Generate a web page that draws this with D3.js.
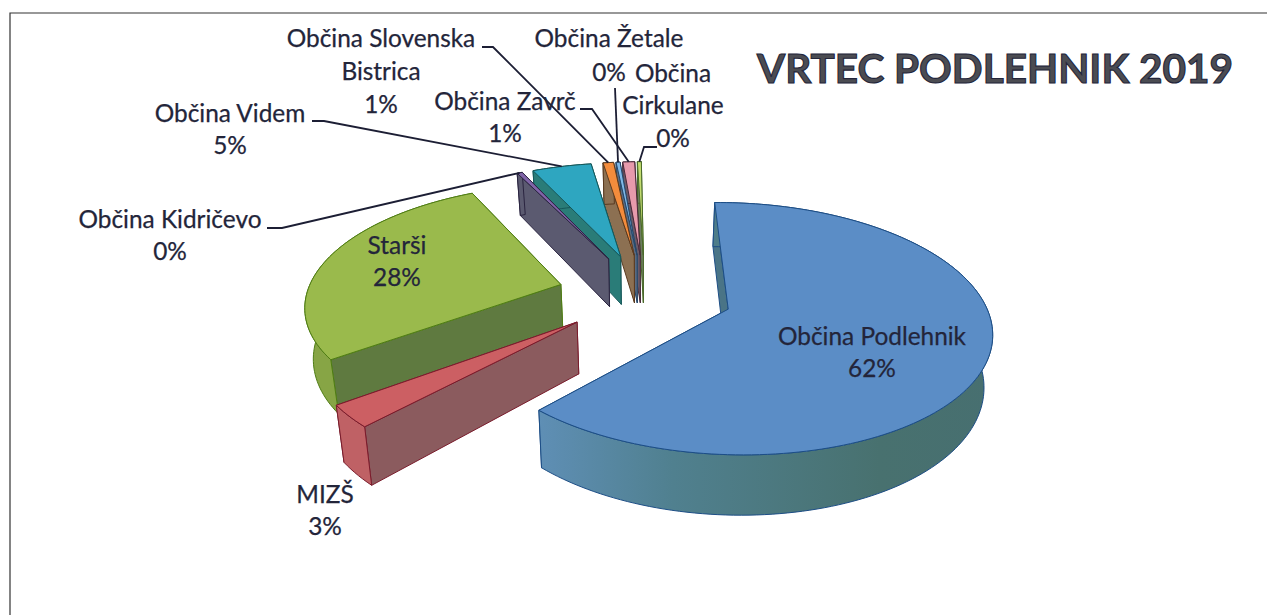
<!DOCTYPE html>
<html lang="sl">
<head>
<meta charset="utf-8">
<script src="https://d3js.org/d3.v7.min.js"></script>
<style>
html,body{margin:0;padding:0;background:#fff;overflow:hidden}
svg{display:block}
text{font-family:Lato,"Open Sans",sans-serif;fill:#23253a}
</style>
</head>
<body>
<svg id="c" width="1267" height="615"></svg>
<script>
const categories = ["Občina Podlehnik","MIZŠ","Starši","Občina Kidričevo","Občina Videm","Občina Slovenska Bistrica","Občina Žetale","Občina Zavrč","Občina Cirkulane"];
const values = [62.3,2.9,27.8,0.4,4.5,0.8,0.3,0.9,0.3];
const percentLabels = ["62%","3%","28%","0%","5%","1%","0%","1%","0%"];
const titleText = "VRTEC PODLEHNIK 2019";

const topColors  = ["#5b8dc6","#cc5f63","#9aba4c","#8064a8","#2ea6c0","#f48c3c","#7fb8e8","#e79aac","#c3dc70"];
const cutColors  = ["#4a7486","#8b5b5e","#5f7a40","#5b5a70","#2a7c78","#8c7052","#5a6a80","#6a5a68","#6d7a60"];
const wallColors = ["url(#blueWall)","#bf6165","#87a545","#5b5a70","#2a7c78","#8c7052","#5a6a80","#6a5a68","#6d7a60"];
const edgeColors = ["#1d4e86","#7a1c2c","#4f7d14","#2a2440","#16585a","#5a3a20","#26486a","#4a2a3a","#4a6a2a"];

const labelLayout = [
  {lines:["Občina Podlehnik"],x:872,y:345,dy:[0,32]},
  {lines:["MIZŠ"],x:325,y:503,dy:[0,32]},
  {lines:["Starši"],x:397,y:254,dy:[0,32]},
  {lines:["Občina Kidričevo"],x:170,y:228,dy:[0,32],leader:[[267,228],[282,228]]},
  {lines:["Občina Videm"],x:230,y:122,dy:[0,32],leader:[[312,121],[324,121]]},
  {lines:["Občina Slovenska","Bistrica"],x:381,y:47,dy:[0,33,66],leader:[[482,47],[493,47]]},
  {lines:["Občina Žetale"],x:609,y:47,dy:[0,34],leader:[[615,88]]},
  {lines:["Občina Zavrč"],x:505,y:110,dy:[0,32],leader:[[580,109],[592,109]]},
  {lines:["Občina","Cirkulane"],x:673,y:82,dy:[0,32,65],leader:[[657,147],[644,147]]}
];

const CX=645, CY=294, RX=254, RY=118.5, PERSP=0.152, EXPLODE=0.345, DEPTH=50, CONVERGE=0.975;
const x=d3.scaleLinear().domain([-1,1]).range([CX-RX,CX+RX]);
const y=d3.scaleLinear().domain([-1,1]).range([CY+RY,CY-RY]);
const start=-0.6*Math.PI/180;
const arcs=d3.pie().sort(null).value(d=>d).startAngle(start).endAngle(start+2*Math.PI)(values);

function project(u,v,z){
  const s=1/(1+PERSP*v);
  return [x(u*s*(z?CONVERGE:1)), y(v*s)+z*DEPTH*s];
}
function pointOf(mid,r,ang,z){
  return project(EXPLODE*Math.sin(mid)+r*Math.sin(ang),EXPLODE*Math.cos(mid)+r*Math.cos(ang),z);
}
const line=d3.line().curve(d3.curveLinear);

const svg=d3.select("#c");
const defs=svg.append("defs");
const g=defs.append("linearGradient").attr("id","blueWall").attr("gradientUnits","userSpaceOnUse")
  .attr("x1",535).attr("x2",995).attr("y1",0).attr("y2",0);
[[0,"#5f8fb6"],[0.3,"#50808f"],[0.75,"#48716f"],[1,"#476f70"]].forEach(s=>g.append("stop").attr("offset",s[0]).attr("stop-color",s[1]));

svg.append("path").attr("d",line([[10,615],[10,13],[1267,13]])).attr("fill","none").attr("stroke","#333").attr("stroke-width",1.2);

const items=arcs.map((a,i)=>({a,i,mid:(a.startAngle+a.endAngle)/2}));
const order=items.slice().sort((p,q)=>d3.descending(Math.cos(p.mid),Math.cos(q.mid)));
const pie=svg.append("g");

order.forEach(({a,i,mid})=>{
  const n=Math.max(2,Math.ceil((a.endAngle-a.startAngle)/(Math.PI/120)));
  const angs=d3.range(n+1).map(k=>a.startAngle+(a.endAngle-a.startAngle)*k/n);
  const apexT=pointOf(mid,0,0,0), apexB=pointOf(mid,0,0,1);
  const arcT=angs.map(t=>pointOf(mid,1,t,0));
  const arcB=angs.map(t=>pointOf(mid,1,t,1));
  const gs=pie.append("g");
  const st={"stroke":edgeColors[i],"stroke-width":1,"stroke-linejoin":"round"};
  const add=(pts,fill)=>{const p=gs.append("path").attr("d",line(pts)+"Z").attr("fill",fill);Object.entries(st).forEach(e=>p.attr(e[0],e[1]));};
  add([apexT,arcT[n],arcB[n],apexB],cutColors[i]);
  add([apexT,arcT[0],arcB[0],apexB],cutColors[i]);
  add(arcT.concat(arcB.slice().reverse()),wallColors[i]);
  add([apexT].concat(arcT),topColors[i]);
});

const leaders=svg.append("g");
const labels=svg.append("g").attr("font-size",24.4).attr("stroke","#23253a").attr("stroke-width",0.25);
labelLayout.forEach((L,i)=>{
  const a=arcs[i], mid=(a.startAngle+a.endAngle)/2;
  if(L.leader){
    const end=pointOf(mid,1,mid,0);
    leaders.append("path").attr("d",line(L.leader.concat([end]))).attr("fill","none")
      .attr("stroke","#1c1e34").attr("stroke-width",1.8);
  }
  const t=labels.append("text").attr("text-anchor","middle");
  const lines=L.lines.concat([percentLabels[i]]);
  lines.forEach((s,k)=>t.append("tspan").attr("x",L.x).attr("y",L.y+L.dy[k]).text(s));
});

svg.append("text").attr("x",995).attr("y",83).attr("text-anchor","middle")
  .attr("font-size",40.5).attr("font-weight",700)
  .style("fill","#4b4c52").attr("stroke","#23253a").attr("stroke-width",1.1)
  .text(titleText);
</script>
</body>
</html>
